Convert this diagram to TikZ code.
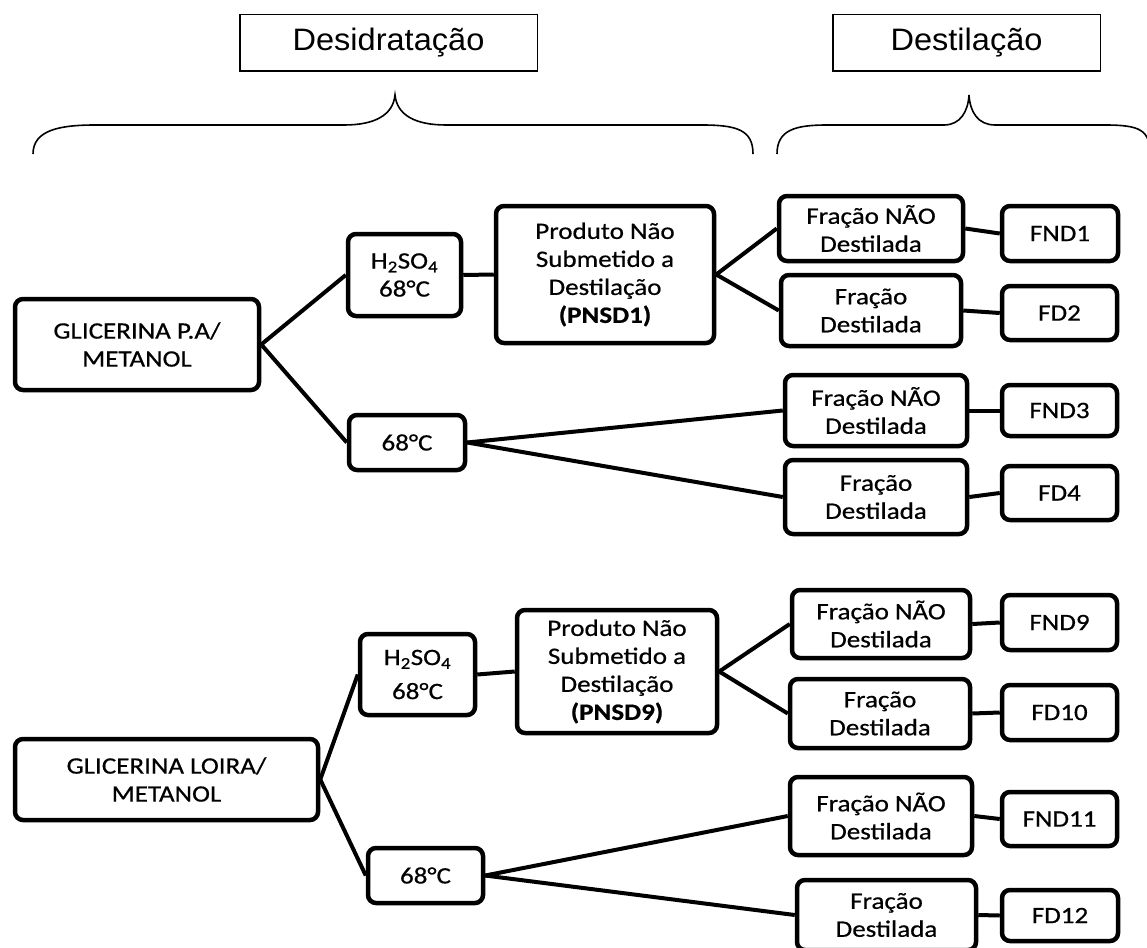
\documentclass[tikz,border=0pt]{standalone}
\usepackage{fontspec}
\setmainfont{Carlito}[FakeStretch=1.15,FakeBold=0.6]
\newfontfamily\arialf{Liberation Sans}[FakeStretch=1.05]
\begin{document}
\begin{tikzpicture}[x=1pt,y=-1pt,
  bx/.style={draw, line width=4.5pt, rounded corners=8pt, align=center, inner sep=0pt,
             font=\fontsize{23.5}{28}\selectfont},
  lbl/.style={draw, line width=1.5pt, inner sep=0pt, font=\arialf\fontsize{31}{35}\selectfont},
  conn/.style={line width=4pt},
  bracestyle/.style={line width=1.6pt}]
\useasboundingbox (0,0) rectangle (1147,947);

% header labels
\node[lbl, minimum width=297.5pt, minimum height=56.5pt] (desid) at (388.5,43) {Desidratação};
\node[lbl, minimum width=267.5pt, minimum height=56.5pt] (destil) at (966.5,43) {Destilação};

% braces
\draw[bracestyle] (33,154) .. controls (33,130) and (60,125) .. (95,125) -- (344,125)
  .. controls (375,125) and (393,115) .. (395,95)
  .. controls (397,115) and (415,125) .. (446,125) -- (702,125)
  .. controls (737,125) and (753,130) .. (753,154);
\draw[bracestyle] (777,154) .. controls (777,130) and (795,125) .. (827,125) -- (944,125)
  .. controls (960,125) and (968,112) .. (969,95)
  .. controls (970,112) and (978,125) .. (995,125) -- (1105,125)
  .. controls (1140,125) and (1150,130) .. (1150,154);

% upper tree
\node[bx, minimum width=244pt, minimum height=91pt] (glicA) at (137,344.5) {GLICERINA P.A/\\METANOL};
\node[bx, minimum width=113pt, minimum height=82pt] (h2a) at (404.5,275) {H\textsubscript{2}SO\textsubscript{4}\\68°C};
\node[bx, minimum width=116pt, minimum height=55pt] (t68a) at (407,442.5) {68°C};
\node[bx, minimum width=218pt, minimum height=137pt] (pnsd1) at (605,274.5) {Produto Não\\Submetido a\\Destilação\\\textbf{(PNSD1)}};
\node[bx, minimum width=184pt, minimum height=65pt] (fn1) at (871,228.5) {Fração NÃO\\Destilada};
\node[bx, minimum width=180pt, minimum height=71pt] (fdb2) at (871,310.5) {Fração\\Destilada};
\node[bx, minimum width=116pt, minimum height=55pt] (fnd1) at (1060,233.5) {FND1};
\node[bx, minimum width=115pt, minimum height=54pt] (fd2) at (1059.5,313) {FD2};
\node[bx, minimum width=182pt, minimum height=71pt] (fn3) at (876,410.5) {Fração NÃO\\Destilada};
\node[bx, minimum width=115pt, minimum height=51pt] (fnd3) at (1059.5,410.5) {FND3};
\node[bx, minimum width=182pt, minimum height=74pt] (fdb4) at (876,497) {Fração\\Destilada};
\node[bx, minimum width=115pt, minimum height=54pt] (fd4) at (1059.5,493) {FD4};

% lower tree
\node[bx, minimum width=303pt, minimum height=81pt] (loira) at (166.5,779.5) {GLICERINA LOIRA/\\METANOL};
\node[bx, minimum width=115pt, minimum height=81pt] (h2b) at (417.5,674.5) {H\textsubscript{2}SO\textsubscript{4}\\[6pt]68°C};
\node[bx, minimum width=115pt, minimum height=55pt] (t68b) at (425.5,875.5) {68°C};
\node[bx, minimum width=200pt, minimum height=123pt] (pnsd9) at (617,671.5) {Produto Não\\Submetido a\\Destilação\\\textbf{(PNSD9)}};
\node[bx, minimum width=178pt, minimum height=68pt] (fn9) at (881,624) {Fração NÃO\\Destilada};
\node[bx, minimum width=180pt, minimum height=69pt] (fdb10) at (880,713.5) {Fração\\Destilada};
\node[bx, minimum width=115pt, minimum height=55pt] (fnd9) at (1059.5,622.5) {FND9};
\node[bx, minimum width=115pt, minimum height=55pt] (fd10) at (1059.5,712.5) {FD10};
\node[bx, minimum width=182pt, minimum height=78pt] (fn11) at (881,816) {Fração NÃO\\Destilada};
\node[bx, minimum width=115pt, minimum height=54pt] (fnd11) at (1059.5,819) {FND11};
\node[bx, minimum width=179pt, minimum height=70pt] (fdb12) at (886.5,915) {Fração\\Destilada};
\node[bx, minimum width=116pt, minimum height=51pt] (fd12) at (1060,915.5) {FD12};

% connectors upper
\draw[conn] (glicA.east) -- (h2a.west);
\draw[conn] (glicA.east) -- (t68a.west);
\draw[conn] (h2a.east) -- (pnsd1.west);
\draw[conn] (pnsd1.east) -- (fn1.west);
\draw[conn] (pnsd1.east) -- (fdb2.west);
\draw[conn] (fn1.east) -- (fnd1.west);
\draw[conn] (fdb2.east) -- (fd2.west);
\draw[conn] (t68a.east) -- (fn3.west);
\draw[conn] (t68a.east) -- (fdb4.west);
\draw[conn] (fn3.east) -- (fnd3.west);
\draw[conn] (fdb4.east) -- (fd4.west);

% connectors lower
\draw[conn] (loira.east) -- (h2b.west);
\draw[conn] (loira.east) -- (t68b.west);
\draw[conn] (h2b.east) -- (pnsd9.west);
\draw[conn] (pnsd9.east) -- (fn9.west);
\draw[conn] (pnsd9.east) -- (fdb10.west);
\draw[conn] (fn9.east) -- (fnd9.west);
\draw[conn] (fdb10.east) -- (fd10.west);
\draw[conn] (t68b.east) -- (fn11.west);
\draw[conn] (t68b.east) -- (fdb12.west);
\draw[conn] (fn11.east) -- (fnd11.west);
\draw[conn] (fdb12.east) -- (fd12.west);
\end{tikzpicture}
\end{document}
